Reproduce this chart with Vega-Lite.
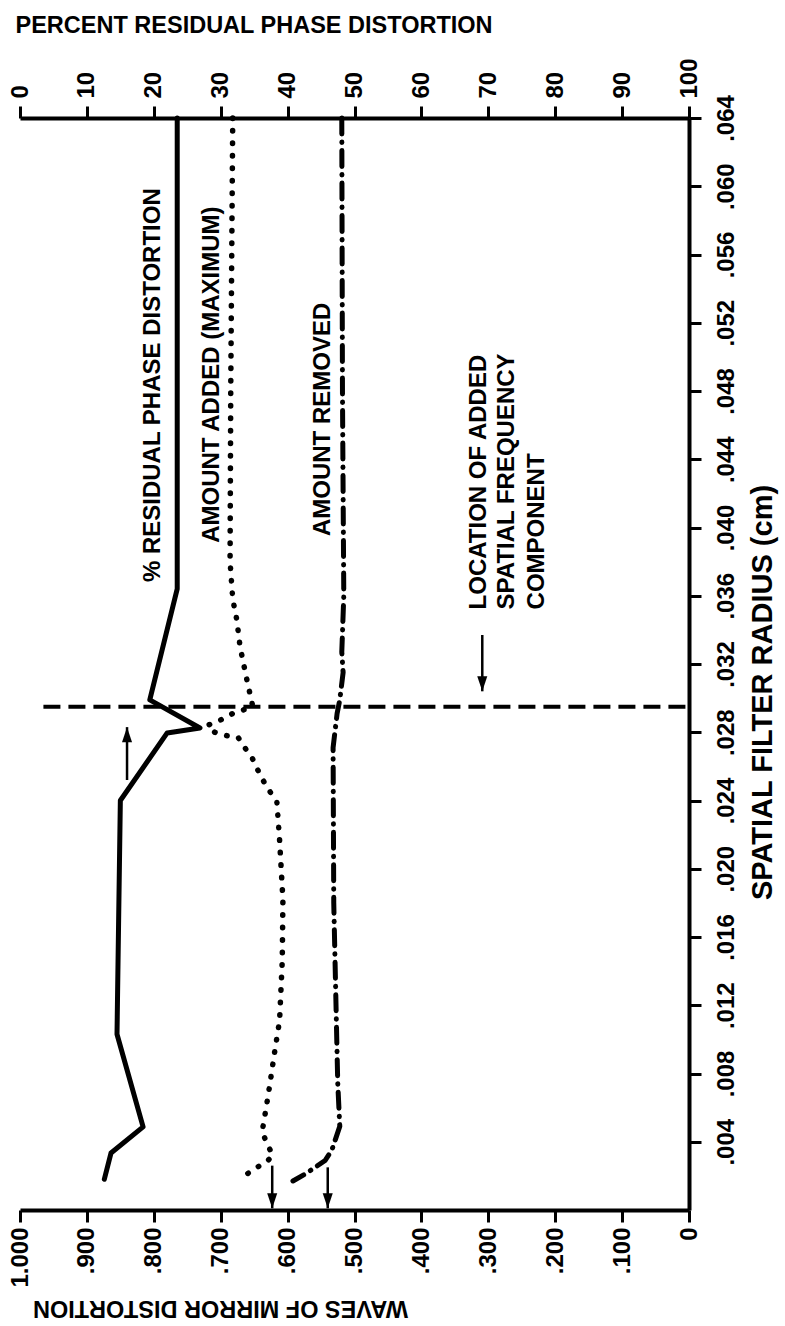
{
  "$schema": "https://vega.github.io/schema/vega-lite/v6.json",
  "width": 669,
  "height": 1092,
  "autosize": {"type": "none"},
  "padding": {"left": 20, "top": 118, "right": 96, "bottom": 116},
  "background": "white",
  "config": {
    "view": {"stroke": null},
    "font": "Liberation Sans",
    "axis": {
      "domainColor": "black", "tickColor": "black", "labelColor": "black", "titleColor": "black",
      "labelFont": "Liberation Sans", "titleFont": "Liberation Sans",
      "labelFontWeight": "bold", "labelFontSize": 24, "titleFontWeight": "bold", "titleFontSize": 23.5,
      "domainWidth": 4, "tickWidth": 3, "tickSize": 12, "grid": false,
      "labelOverlap": false, "labelFlush": false, "labelBound": false
    }
  },
  "datasets": {
    "residual": [
      {"i": 1, "r": 0.064, "p": 23.5}, {"i": 2, "r": 0.0364, "p": 23.5}, {"i": 3, "r": 0.0299, "p": 19.4},
      {"i": 4, "r": 0.02825, "p": 26.9}, {"i": 5, "r": 0.02796, "p": 22.0}, {"i": 6, "r": 0.024, "p": 15.0},
      {"i": 7, "r": 0.0103, "p": 14.5}, {"i": 8, "r": 0.00487, "p": 18.4}, {"i": 9, "r": 0.00334, "p": 13.6},
      {"i": 10, "r": 0.0018, "p": 12.6}
    ],
    "added": [
      {"i": 1, "r": 0.064, "w": 0.682}, {"i": 2, "r": 0.048, "w": 0.685}, {"i": 3, "r": 0.038, "w": 0.686},
      {"i": 4, "r": 0.0358, "w": 0.682}, {"i": 5, "r": 0.0346, "w": 0.676}, {"i": 6, "r": 0.033, "w": 0.671},
      {"i": 7, "r": 0.0311, "w": 0.661}, {"i": 8, "r": 0.0295, "w": 0.652}, {"i": 9, "r": 0.0293, "w": 0.667},
      {"i": 10, "r": 0.0291, "w": 0.682}, {"i": 11, "r": 0.0287, "w": 0.701}, {"i": 12, "r": 0.0284, "w": 0.72},
      {"i": 13, "r": 0.028, "w": 0.709}, {"i": 14, "r": 0.0278, "w": 0.691}, {"i": 15, "r": 0.0277, "w": 0.674},
      {"i": 16, "r": 0.0271, "w": 0.664}, {"i": 17, "r": 0.0265, "w": 0.653}, {"i": 18, "r": 0.0259, "w": 0.646},
      {"i": 19, "r": 0.0252, "w": 0.637}, {"i": 20, "r": 0.0245, "w": 0.626}, {"i": 21, "r": 0.0239, "w": 0.616},
      {"i": 22, "r": 0.0217, "w": 0.612}, {"i": 23, "r": 0.0182, "w": 0.607}, {"i": 24, "r": 0.0146, "w": 0.608},
      {"i": 25, "r": 0.0111, "w": 0.612}, {"i": 26, "r": 0.0091, "w": 0.62}, {"i": 27, "r": 0.0075, "w": 0.626},
      {"i": 28, "r": 0.006, "w": 0.632}, {"i": 29, "r": 0.0046, "w": 0.638}, {"i": 30, "r": 0.0039, "w": 0.631},
      {"i": 31, "r": 0.0032, "w": 0.622}, {"i": 32, "r": 0.0028, "w": 0.632}, {"i": 33, "r": 0.0025, "w": 0.646},
      {"i": 34, "r": 0.0021, "w": 0.661}
    ],
    "removed": [
      {"i": 1, "r": 0.064, "w": 0.519}, {"i": 2, "r": 0.048, "w": 0.518}, {"i": 3, "r": 0.036, "w": 0.516},
      {"i": 4, "r": 0.0327, "w": 0.519}, {"i": 5, "r": 0.0315, "w": 0.517}, {"i": 6, "r": 0.0299, "w": 0.522},
      {"i": 7, "r": 0.0291, "w": 0.526}, {"i": 8, "r": 0.0281, "w": 0.529}, {"i": 9, "r": 0.0271, "w": 0.532},
      {"i": 10, "r": 0.018, "w": 0.531}, {"i": 11, "r": 0.0091, "w": 0.526}, {"i": 12, "r": 0.0074, "w": 0.525},
      {"i": 13, "r": 0.0049, "w": 0.522}, {"i": 14, "r": 0.0042, "w": 0.528}, {"i": 15, "r": 0.0035, "w": 0.534},
      {"i": 16, "r": 0.0029, "w": 0.544}, {"i": 17, "r": 0.0025, "w": 0.559}, {"i": 18, "r": 0.0021, "w": 0.574},
      {"i": 19, "r": 0.0017, "w": 0.592}
    ],
    "labels": [
      {"text": "% RESIDUAL PHASE DISTORTION", "p": 19.9, "r": 0.0368},
      {"text": "AMOUNT ADDED (MAXIMUM)", "p": 28.7, "r": 0.0391},
      {"text": "AMOUNT REMOVED", "p": 45.3, "r": 0.0395},
      {"text": "LOCATION OF ADDED", "p": 68.6, "r": 0.0352},
      {"text": "SPATIAL FREQUENCY", "p": 72.8, "r": 0.0352},
      {"text": "COMPONENT", "p": 77.3, "r": 0.0352}
    ],
    "arrowUp": [{"p": 16.0, "r": 0.0252, "r2": 0.0283}],
    "arrowDown": [{"p": 69.1, "r": 0.0337, "r2": 0.0304}],
    "arrowsW": [{"w": 0.623, "r": 0.0026, "r2": 0.0001}, {"w": 0.54, "r": 0.0025, "r2": 0.0001}],
    "location": [{"r": 0.0295, "p": 3.5, "p2": 100}]
  },
  "layer": [
    {
      "data": {"name": "residual"},
      "mark": {"type": "line", "color": "black", "strokeWidth": 5, "strokeJoin": "round", "strokeCap": "round"},
      "encoding": {
        "order": {"field": "i", "type": "quantitative"},
        "x": {
          "field": "p", "type": "quantitative",
          "scale": {"domain": [0, 100], "nice": false, "zero": false},
          "axis": {
            "orient": "top", "values": [0, 10, 20, 30, 40, 50, 60, 70, 80, 90, 100],
            "title": "PERCENT RESIDUAL PHASE DISTORTION",
            "labelAngle": 270, "labelAlign": "left", "labelBaseline": "middle", "labelPadding": 8,
            "titleAngle": 0, "titleAlign": "left", "titleAnchor": "start", "titleBaseline": "alphabetic",
            "titleX": -5, "titleY": -86
          }
        },
        "y": {
          "field": "r", "type": "quantitative",
          "scale": {"domain": [0, 0.064], "nice": false, "zero": false},
          "axis": {
            "orient": "right",
            "values": [0.004, 0.008, 0.012, 0.016, 0.02, 0.024, 0.028, 0.032, 0.036, 0.04, 0.044, 0.048, 0.052, 0.056, 0.06, 0.064],
            "labelExpr": "replace(format(datum.value, '.3f'), '0.', '.')",
            "title": "SPATIAL FILTER RADIUS (cm)",
            "labelAngle": 270, "labelAlign": "center", "labelBaseline": "top", "labelPadding": 13,
            "titleAngle": 270, "titleAlign": "center", "titleBaseline": "middle", "titleFontSize": 29,
            "titleX": 73, "titleY": 574
          }
        }
      }
    },
    {
      "data": {"name": "added"},
      "mark": {"type": "line", "color": "black", "strokeWidth": 5.5, "strokeCap": "round", "strokeDash": [0.5, 12]},
      "encoding": {
        "order": {"field": "i", "type": "quantitative"},
        "x": {
          "field": "w", "type": "quantitative",
          "scale": {"domain": [1, 0], "nice": false, "zero": false},
          "axis": {
            "orient": "bottom", "values": [1, 0.9, 0.8, 0.7, 0.6, 0.5, 0.4, 0.3, 0.2, 0.1, 0],
            "labelExpr": "datum.value >= 0.9999 ? '1.000' : (datum.value <= 0.0001 ? '0' : replace(format(datum.value, '.3f'), '0.', '.'))",
            "title": "WAVES OF MIRROR DISTORTION",
            "labelAngle": 270, "labelAlign": "right", "labelBaseline": "middle", "labelPadding": 5,
            "titleAngle": 180, "titleAlign": "center", "titleBaseline": "middle",
            "titleX": 200, "titleY": 97
          }
        },
        "y": {"field": "r", "type": "quantitative", "axis": null}
      }
    },
    {
      "data": {"name": "removed"},
      "mark": {"type": "line", "color": "black", "strokeWidth": 5, "strokeCap": "round", "strokeDash": [16, 8, 0.5, 8]},
      "encoding": {
        "order": {"field": "i", "type": "quantitative"},
        "x": {"field": "w", "type": "quantitative", "scale": {"domain": [1, 0], "nice": false, "zero": false}, "axis": null},
        "y": {"field": "r", "type": "quantitative", "axis": null}
      }
    },
    {
      "data": {"name": "location"},
      "mark": {"type": "rule", "color": "black", "strokeWidth": 4, "strokeDash": [17, 8]},
      "encoding": {
        "x": {"field": "p", "type": "quantitative", "scale": {"domain": [0, 100], "nice": false, "zero": false}, "axis": null},
        "x2": {"field": "p2"},
        "y": {"field": "r", "type": "quantitative", "axis": null}
      }
    },
    {
      "data": {"name": "labels"},
      "mark": {"type": "text", "angle": 270, "align": "left", "baseline": "middle", "font": "Liberation Sans", "fontWeight": "bold", "fontSize": 24, "color": "black"},
      "encoding": {
        "x": {"field": "p", "type": "quantitative", "scale": {"domain": [0, 100], "nice": false, "zero": false}, "axis": null},
        "y": {"field": "r", "type": "quantitative", "axis": null},
        "text": {"field": "text"}
      }
    },
    {
      "data": {"name": "arrowUp"},
      "mark": {"type": "rule", "color": "black", "strokeWidth": 2.5},
      "encoding": {
        "x": {"field": "p", "type": "quantitative", "scale": {"domain": [0, 100], "nice": false, "zero": false}, "axis": null},
        "y": {"field": "r", "type": "quantitative", "axis": null}, "y2": {"field": "r2"}
      }
    },
    {
      "data": {"name": "arrowUp"},
      "mark": {"type": "point", "shape": "M-0.67,2L0.67,2L0,0Z", "filled": true, "color": "black", "opacity": 1, "size": 225},
      "encoding": {
        "x": {"field": "p", "type": "quantitative", "scale": {"domain": [0, 100], "nice": false, "zero": false}, "axis": null},
        "y": {"field": "r2", "type": "quantitative", "axis": null}
      }
    },
    {
      "data": {"name": "arrowDown"},
      "mark": {"type": "rule", "color": "black", "strokeWidth": 2.5},
      "encoding": {
        "x": {"field": "p", "type": "quantitative", "scale": {"domain": [0, 100], "nice": false, "zero": false}, "axis": null},
        "y": {"field": "r", "type": "quantitative", "axis": null}, "y2": {"field": "r2"}
      }
    },
    {
      "data": {"name": "arrowDown"},
      "mark": {"type": "point", "shape": "M-0.67,-2L0.67,-2L0,0Z", "filled": true, "color": "black", "opacity": 1, "size": 225},
      "encoding": {
        "x": {"field": "p", "type": "quantitative", "scale": {"domain": [0, 100], "nice": false, "zero": false}, "axis": null},
        "y": {"field": "r2", "type": "quantitative", "axis": null}
      }
    },
    {
      "data": {"name": "arrowsW"},
      "mark": {"type": "rule", "color": "black", "strokeWidth": 2.5},
      "encoding": {
        "x": {"field": "w", "type": "quantitative", "scale": {"domain": [1, 0], "nice": false, "zero": false}, "axis": null},
        "y": {"field": "r", "type": "quantitative", "axis": null}, "y2": {"field": "r2"}
      }
    },
    {
      "data": {"name": "arrowsW"},
      "mark": {"type": "point", "shape": "M-0.67,-2L0.67,-2L0,0Z", "filled": true, "color": "black", "opacity": 1, "size": 225},
      "encoding": {
        "x": {"field": "w", "type": "quantitative", "scale": {"domain": [1, 0], "nice": false, "zero": false}, "axis": null},
        "y": {"field": "r2", "type": "quantitative", "axis": null}
      }
    }
  ],
  "resolve": {"scale": {"x": "independent"}, "axis": {"x": "independent", "y": "independent"}}
}
